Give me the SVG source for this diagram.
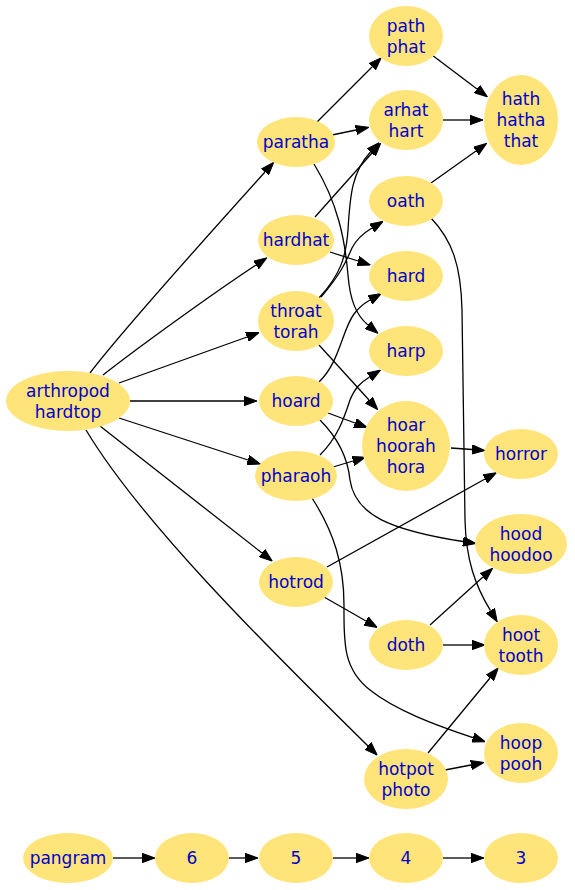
<svg xmlns="http://www.w3.org/2000/svg" width="575" height="890" viewBox="0 0 575 890">
<style>
.node ellipse{fill:#ffe47a;stroke:none}
.node text{font-family:"DejaVu Sans",Verdana,sans-serif;font-size:17px;fill:#0000cd;text-anchor:middle}
.edges path{fill:none;stroke:#000;stroke-width:1.3;marker-end:url(#ah)}
</style>
<defs>
<marker id="ah" viewBox="0 0 13 10" refX="0" refY="5" markerWidth="13" markerHeight="10" markerUnits="userSpaceOnUse" orient="auto"><path d="M0,0.3 L13,5 L0,9.7 Z" fill="#000" stroke="#000" stroke-width="1"/></marker>
</defs>
<rect width="575" height="890" fill="#fff"/>
<g class="edges">
<path d="M90,373 C115,340 210,233 265,172"/>
<path d="M103,375 C140,346 215,292 256,265"/>
<path d="M119,383 L247,337"/>
<path d="M130,401 L244,401"/>
<path d="M119,418 L248,460"/>
<path d="M100,426 L262,553"/>
<path d="M86,430 C140,520 260,640 368,746"/>
<path d="M317,122 L372,67"/>
<path d="M332,135 L356,130"/>
<path d="M314,164 C338,203 345,240 348,275 C350,300 356,315 368,325"/>
<path d="M315,217 L372,153"/>
<path d="M330,252 L358,261"/>
<path d="M319,298 C340,275 346,258 348,230 C350,195 352,172 370.5,152"/>
<path d="M321,297 C340,275 346,262 352,248 C356,240 362,234 372,228"/>
<path d="M319,345 L369,400"/>
<path d="M319,382 C340,362 342,330 354,314 C359,307 363,304 370,300"/>
<path d="M328,413 L355,423"/>
<path d="M320,420 C340,440 348,460 350,480 C355,515 390,530 463,541.5"/>
<path d="M320,455 C338,437 344,418 350,400 C355,388 360,383 369.5,377"/>
<path d="M333,467 L353,461"/>
<path d="M312,498 C334,532 344,565 344,605 C344,640 342,668 370,690 C395,710 435,725 473,737.6"/>
<path d="M327,567 L485,479"/>
<path d="M324,597 L366,621"/>
<path d="M431,183 L476,151"/>
<path d="M431,218 C452,240 461,265 462,310 L465,520 C466,560 475,585 490.5,610.7"/>
<path d="M432,55 L477,89"/>
<path d="M443,120 L470,120"/>
<path d="M451,448 L472,449.5"/>
<path d="M430,625 L483,577"/>
<path d="M443,645 L472,645"/>
<path d="M428,753 L490,678"/>
<path d="M445,770 L471,765"/>
<path d="M113,858 L142,858"/>
<path d="M229,858 L245,858"/>
<path d="M333,858 L356,858"/>
<path d="M443,858 L471,858"/>
</g>
<g id="path" class="node"><ellipse cx="406" cy="36" rx="37" ry="30"/><text x="406" y="31.5">path</text><text x="406" y="52.5">phat</text></g>
<g id="arhat" class="node"><ellipse cx="406" cy="120" rx="37" ry="30"/><text x="406" y="115.5">arhat</text><text x="406" y="136.5">hart</text></g>
<g id="hath" class="node"><ellipse cx="521" cy="120" rx="37" ry="45"/><text x="521" y="105">hath</text><text x="521" y="126">hatha</text><text x="521" y="147">that</text></g>
<g id="paratha" class="node"><ellipse cx="296" cy="142" rx="39" ry="25"/><text x="296" y="148">paratha</text></g>
<g id="oath" class="node"><ellipse cx="406" cy="201" rx="37" ry="25"/><text x="406" y="207">oath</text></g>
<g id="hardhat" class="node"><ellipse cx="296" cy="240" rx="38" ry="25"/><text x="296" y="246">hardhat</text></g>
<g id="hard" class="node"><ellipse cx="406" cy="276" rx="37" ry="25"/><text x="406" y="282">hard</text></g>
<g id="throat" class="node"><ellipse cx="296" cy="321" rx="38" ry="30"/><text x="296" y="316.5">throat</text><text x="296" y="337.5">torah</text></g>
<g id="harp" class="node"><ellipse cx="406" cy="351" rx="37" ry="25"/><text x="406" y="357">harp</text></g>
<g id="arthropod" class="node"><ellipse cx="68" cy="401" rx="62" ry="30"/><text x="68" y="396.5">arthropod</text><text x="68" y="417.5">hardtop</text></g>
<g id="hoard" class="node"><ellipse cx="296" cy="401" rx="37" ry="25"/><text x="296" y="407">hoard</text></g>
<g id="hoar" class="node"><ellipse cx="406" cy="446" rx="44" ry="45"/><text x="406" y="431">hoar</text><text x="406" y="452">hoorah</text><text x="406" y="473">hora</text></g>
<g id="horror" class="node"><ellipse cx="521" cy="454" rx="37" ry="25"/><text x="521" y="460">horror</text></g>
<g id="pharaoh" class="node"><ellipse cx="296" cy="476" rx="41" ry="25"/><text x="296" y="482">pharaoh</text></g>
<g id="hood" class="node"><ellipse cx="521" cy="544" rx="46" ry="30"/><text x="521" y="539.5">hood</text><text x="521" y="560.5">hoodoo</text></g>
<g id="hotrod" class="node"><ellipse cx="296" cy="582" rx="37" ry="25"/><text x="296" y="588">hotrod</text></g>
<g id="doth" class="node"><ellipse cx="406" cy="645" rx="37" ry="25"/><text x="406" y="651">doth</text></g>
<g id="hoot" class="node"><ellipse cx="521" cy="645" rx="37" ry="30"/><text x="521" y="640.5">hoot</text><text x="521" y="661.5">tooth</text></g>
<g id="hoop" class="node"><ellipse cx="521" cy="753" rx="37" ry="30"/><text x="521" y="748.5">hoop</text><text x="521" y="769.5">pooh</text></g>
<g id="hotpot" class="node"><ellipse cx="406" cy="779" rx="42" ry="30"/><text x="406" y="774.5">hotpot</text><text x="406" y="795.5">photo</text></g>
<g id="pangram" class="node"><ellipse cx="68" cy="858" rx="45" ry="25"/><text x="68" y="864">pangram</text></g>
<g id="n6" class="node"><ellipse cx="192" cy="858" rx="37" ry="25"/><text x="192" y="864">6</text></g>
<g id="n5" class="node"><ellipse cx="296" cy="858" rx="37" ry="25"/><text x="296" y="864">5</text></g>
<g id="n4" class="node"><ellipse cx="406" cy="858" rx="37" ry="25"/><text x="406" y="864">4</text></g>
<g id="n3" class="node"><ellipse cx="521" cy="858" rx="37" ry="25"/><text x="521" y="864">3</text></g>
</svg>
